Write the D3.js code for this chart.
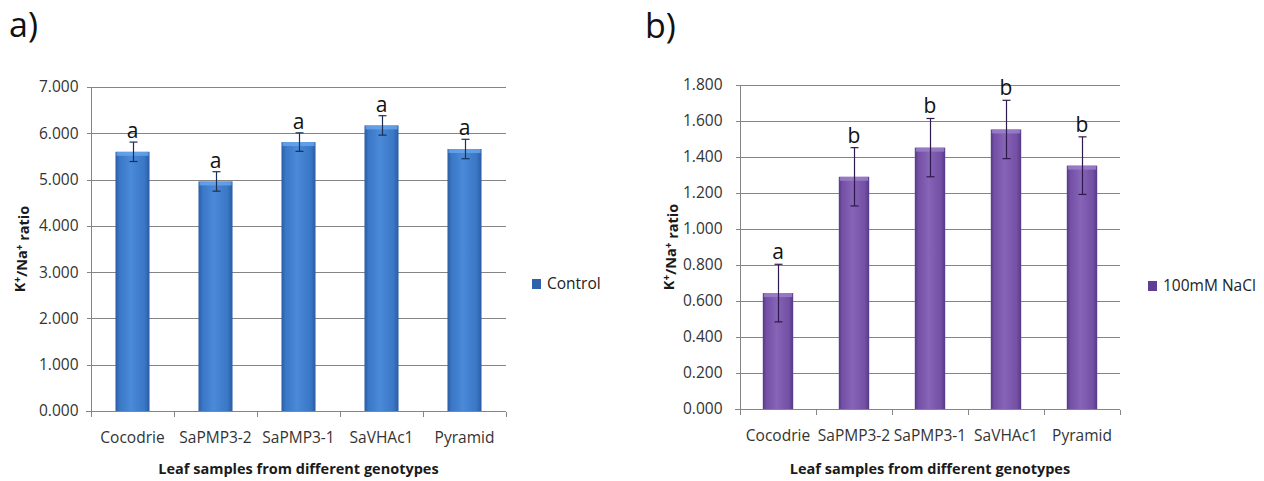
<!DOCTYPE html>
<html>
<head>
<meta charset="utf-8">
<script src="https://cdn.jsdelivr.net/npm/d3@7"></script>
<style>
  body { margin: 0; background: #fff; }
  svg text { font-family: "Open Sans", "DejaVu Sans", sans-serif; }
  .grid line { stroke: #858585; stroke-width: 1; }
  .axis path, .axis line { stroke: #858585; shape-rendering: crispEdges; }
  .axis text { fill: #333; font-size: 15.5px; }
</style>
</head>
<body>
<div id="chart"></div>
<script>
// data ---------------------------------------------------------------------------
var genotypes = ["Cocodrie", "SaPMP3-2", "SaPMP3-1", "SaVHAc1", "Pyramid"];

var controlMeans   = [5.60, 4.96, 5.81, 6.17, 5.66];
var controlErr     = [0.21, 0.21, 0.20, 0.21, 0.21];
var controlLetters = ["a", "a", "a", "a", "a"];
var controlTicks   = [0, 1, 2, 3, 4, 5, 6, 7];

var naclMeans   = [0.644, 1.290, 1.452, 1.553, 1.352];
var naclErr     = [0.160, 0.162, 0.162, 0.162, 0.160];
var naclLetters = ["a", "b", "b", "b", "b"];
var naclTicks   = [0, 0.2, 0.4, 0.6, 0.8, 1.0, 1.2, 1.4, 1.6, 1.8];

var W = 1264, H = 481;

var svg = d3.select("#chart").append("svg")
    .attr("width", W)
    .attr("height", H);

var defs = svg.append("defs");

// bar shading, darker at the edges, light in the middle
function addGradient(id, edge, mid, light) {
  var g = defs.append("linearGradient")
      .attr("id", id)
      .attr("x1", "0%").attr("x2", "100%")
      .attr("y1", "0%").attr("y2", "0%");
  g.append("stop").attr("offset", "0%").attr("stop-color", edge);
  g.append("stop").attr("offset", "12%").attr("stop-color", mid);
  g.append("stop").attr("offset", "45%").attr("stop-color", light);
  g.append("stop").attr("offset", "85%").attr("stop-color", mid);
  g.append("stop").attr("offset", "100%").attr("stop-color", edge);
}
addGradient("blueBar", "#2b5ca3", "#3a77c6", "#4a8ad8");
addGradient("purpleBar", "#563a85", "#7450a6", "#8664b6");

var panels = [
  {
    label: "a)", labelX: 9, labelY: 37,
    means: controlMeans, err: controlErr, letters: controlLetters, ticks: controlTicks,
    left: 91, right: 506, top: 87, bottom: 411, max: 7,
    barFrac: 0.41, fill: "url(#blueBar)", cap: "#6aa6ec", errColor: "#1c2f55",
    tickEnd: 78, titleX: 20, letterGap: 4,
    legend: "Control", legX: 532, legY: 284, swatch: "#2e62ad"
  },
  {
    label: "b)", labelX: 645, labelY: 38,
    means: naclMeans, err: naclErr, letters: naclLetters, ticks: naclTicks,
    left: 740, right: 1120, top: 85, bottom: 409, max: 1.8,
    barFrac: 0.40, fill: "url(#purpleBar)", cap: "#9e82cc", errColor: "#2e1a4f",
    tickEnd: 722, titleX: 669, letterGap: 5,
    legend: "100mM NaCl", legX: 1148, legY: 286, swatch: "#5e3f93"
  }
];

panels.forEach(drawPanel);

function drawPanel(p) {
  var g = svg.append("g");

  var x = d3.scaleBand()
      .domain(genotypes)
      .range([p.left, p.right]);

  var y = d3.scaleLinear()
      .domain([0, p.max])
      .range([p.bottom, p.top]);

  // panel letter
  g.append("text")
      .attr("x", p.labelX)
      .attr("y", p.labelY)
      .style("font-size", "34px")
      .attr("fill", "#111")
      .text(p.label);

  // horizontal grid lines
  g.append("g")
      .attr("class", "grid")
    .selectAll("line")
    .data(p.ticks.slice(1))
    .enter().append("line")
      .attr("x1", p.left)
      .attr("x2", p.right)
      .attr("y1", function(d) { return Math.round(y(d)) + 0.5; })
      .attr("y2", function(d) { return Math.round(y(d)) + 0.5; });

  // y axis
  var yAxis = g.append("g")
      .attr("class", "axis")
      .attr("transform", "translate(" + (p.left + 0.5) + ",0)")
      .call(d3.axisLeft(y)
          .tickValues(p.ticks)
          .tickSize(5)
          .tickPadding(p.left - p.tickEnd - 5)
          .tickFormat(d3.format(".3f")));
  yAxis.select(".domain").attr("d", "M0," + p.bottom + "V" + p.top);

  // x axis, ticks sit between categories
  var xAxis = g.append("g")
      .attr("class", "axis")
      .attr("transform", "translate(0," + (p.bottom + 0.5) + ")");
  xAxis.append("line")
      .attr("x1", p.left - 5)
      .attr("x2", p.right);
  xAxis.selectAll(".bt")
      .data(d3.range(genotypes.length + 1))
      .enter().append("line")
      .attr("class", "bt")
      .attr("x1", function(i) { return Math.round(p.left + i * x.step()) + 0.5; })
      .attr("x2", function(i) { return Math.round(p.left + i * x.step()) + 0.5; })
      .attr("y1", 0)
      .attr("y2", 5);
  xAxis.selectAll("text")
      .data(genotypes)
      .enter().append("text")
      .attr("x", function(d) { return x(d) + x.bandwidth() / 2; })
      .attr("y", 31)
      .attr("text-anchor", "middle")
      .text(function(d) { return d; });

  // axis titles
  g.append("text")
      .attr("x", (p.left + p.right) / 2)
      .attr("y", 474)
      .attr("text-anchor", "middle")
      .style("font-size", "14.5px")
      .style("font-weight", "bold")
      .attr("fill", "#1a1a1a")
      .text("Leaf samples from different genotypes");

  var yt = g.append("text")
      .attr("transform", "translate(" + p.titleX + "," + ((p.top + p.bottom) / 2) + ") rotate(-90)")
      .attr("text-anchor", "middle")
      .attr("dy", "0.35em")
      .style("font-size", "14.5px")
      .style("font-weight", "bold")
      .attr("fill", "#1a1a1a");
  yt.append("tspan").text("K");
  yt.append("tspan").attr("dy", "-0.45em").style("font-size", "10px").text("+");
  yt.append("tspan").attr("dy", "0.45em").text("/Na");
  yt.append("tspan").attr("dy", "-0.45em").style("font-size", "10px").text("+");
  yt.append("tspan").attr("dy", "0.45em").text(" ratio");

  // bars
  var bw = x.step() * p.barFrac;
  var bars = g.append("g")
    .selectAll("g")
    .data(genotypes)
    .enter().append("g");

  bars.append("rect")
      .attr("x", function(d) { return x(d) + (x.bandwidth() - bw) / 2; })
      .attr("y", function(d, i) { return y(p.means[i]); })
      .attr("width", bw)
      .attr("height", function(d, i) { return p.bottom - y(p.means[i]); })
      .attr("fill", p.fill);

  // lighter top rim
  bars.append("rect")
      .attr("x", function(d) { return x(d) + (x.bandwidth() - bw) / 2 + 1; })
      .attr("y", function(d, i) { return y(p.means[i]); })
      .attr("width", bw - 2)
      .attr("height", 4)
      .attr("fill", p.cap)
      .attr("opacity", 0.8);

  // error bars
  var cx = function(d) { return Math.round(x(d) + x.bandwidth() / 2) + 0.5; };
  bars.append("line")
      .attr("x1", cx).attr("x2", cx)
      .attr("y1", function(d, i) { return y(p.means[i] + p.err[i]); })
      .attr("y2", function(d, i) { return y(p.means[i] - p.err[i]); })
      .attr("stroke", p.errColor)
      .attr("stroke-width", 1.2);
  [1, -1].forEach(function(s) {
    bars.append("line")
        .attr("x1", function(d) { return cx(d) - 4; })
        .attr("x2", function(d) { return cx(d) + 4; })
        .attr("y1", function(d, i) { return y(p.means[i] + s * p.err[i]); })
        .attr("y2", function(d, i) { return y(p.means[i] + s * p.err[i]); })
        .attr("stroke", p.errColor)
        .attr("stroke-width", 1.2);
  });

  // significance letters
  bars.append("text")
      .attr("x", function(d) { return x(d) + x.bandwidth() / 2; })
      .attr("y", function(d, i) { return y(p.means[i] + p.err[i]) - p.letterGap; })
      .attr("text-anchor", "middle")
      .style("font-size", "21px")
      .attr("fill", "#111")
      .text(function(d, i) { return p.letters[i]; });

  // legend
  g.append("rect")
      .attr("x", p.legX)
      .attr("y", p.legY - 5)
      .attr("width", 9)
      .attr("height", 10)
      .attr("fill", p.swatch);
  g.append("text")
      .attr("x", p.legX + 15)
      .attr("y", p.legY)
      .attr("dy", "0.35em")
      .style("font-size", "15.5px")
      .attr("fill", "#222")
      .text(p.legend);
}
</script>
</body>
</html>
